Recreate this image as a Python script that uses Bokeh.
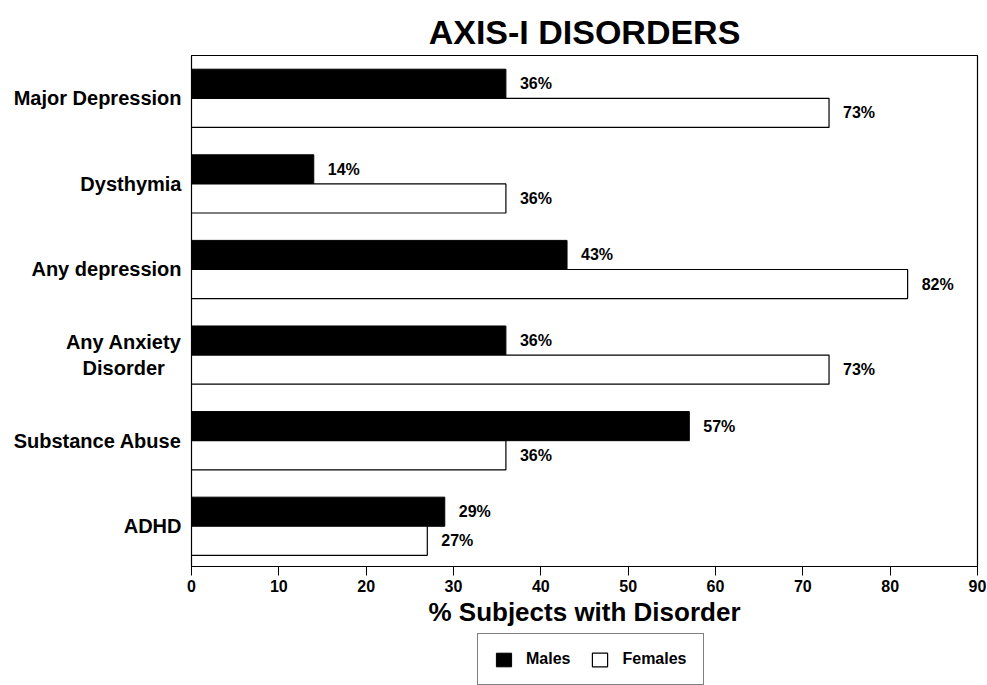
from bokeh.plotting import figure
from bokeh.layouts import column
from bokeh.models import ColumnDataSource, Legend, LegendItem, FixedTicker, LabelSet
from bokeh.core.properties import value
from bokeh.embed import file_html
from bokeh.resources import INLINE

# Data: percentage of subjects with each Axis-I disorder
categories = ["Major Depression", "Dysthymia", "Any depression",
              "Any Anxiety\nDisorder\u00a0\u00a0\u00a0", "Substance Abuse", "ADHD"]
males = [36, 14, 43, 36, 57, 29]
females = [73, 36, 82, 73, 36, 27]
x_ticks = [0, 10, 20, 30, 40, 50, 60, 70, 80, 90]
series_names = ["Males", "Females"]

n = len(categories)
pos = [n - 1 - i for i in range(n)]          # top-to-bottom order
bar_h = 0.34
male_y = [p_ + bar_h / 2 for p_ in pos]
female_y = [p_ - bar_h / 2 for p_ in pos]

males_src = ColumnDataSource(dict(y=male_y, v=males, lab=[f"{v}%" for v in males]))
females_src = ColumnDataSource(dict(y=female_y, v=females, lab=[f"{v}%" for v in females]))

FONT = "Liberation Sans"
W = 987

p = figure(frame_width=786, frame_height=511, x_range=(0, 90), y_range=(-0.47, 5.5),
           output_backend="svg", toolbar_location=None,
           min_border_left=191, min_border_right=10, min_border_top=55,
           min_border_bottom=64)

p.title.text = "AXIS-I DISORDERS"
p.title.text_font = FONT
p.title.text_font_size = "34px"
p.title.text_font_style = "bold"
p.title.align = "center"
p.title.text_color = "black"
p.title.standoff = 9

p.outline_line_color = "black"
p.outline_line_width = 1.2
p.xgrid.visible = False
p.ygrid.visible = False

bar_styles = [dict(fill_color="black", line_color="black", line_width=1),
              dict(fill_color="white", line_color="black", line_width=1.2)]

p.hbar(y="y", right="v", left=0, height=bar_h, source=males_src, **bar_styles[0])
p.hbar(y="y", right="v", left=0, height=bar_h, source=females_src, **bar_styles[1])

for src in (males_src, females_src):
    p.add_layout(LabelSet(x="v", y="y", text="lab", source=src, x_offset=14,
                          text_baseline="middle", text_font=value(FONT),
                          text_font_size=value("16px"), text_font_style="bold",
                          text_color="black"))

# x axis
xa = p.xaxis[0]
xa.ticker = FixedTicker(ticks=x_ticks)
xa.axis_label = "% Subjects with Disorder"
xa.axis_label_text_font = FONT
xa.axis_label_text_font_size = "26px"
xa.axis_label_text_font_style = "bold"
xa.axis_label_text_color = "black"
xa.axis_label_standoff = 2
xa.major_label_text_font = FONT
xa.major_label_text_font_size = "16px"
xa.major_label_text_font_style = "bold"
xa.major_label_text_color = "black"
xa.major_tick_out = 9
xa.major_tick_in = 0
xa.minor_tick_out = 0
xa.minor_tick_in = 0
xa.axis_line_color = "black"
xa.major_tick_line_color = "black"
xa.major_label_standoff = 4

# y axis with category names
ya = p.yaxis[0]
ya.ticker = FixedTicker(ticks=pos)
ya.major_label_overrides = {pos[i]: categories[i] for i in range(n)}
ya.major_label_text_font = FONT
ya.major_label_text_font_size = "20px"
ya.major_label_text_font_style = "bold"
ya.major_label_text_color = "black"
ya.major_tick_out = 0
ya.major_tick_in = 0
ya.minor_tick_out = 0
ya.minor_tick_in = 0
ya.axis_line_color = "black"
ya.major_label_standoff = 10

# legend strip underneath the chart; its swatch renderers hold no drawable bar
leg = figure(width=W, height=55, x_range=(0, 1), y_range=(0, 1),
             x_axis_type=None, y_axis_type=None,
             output_backend="svg", toolbar_location=None,
             min_border=0, outline_line_color=None)
leg_items = []
for name, style in zip(series_names, bar_styles):
    r = leg.hbar(y=[float("nan")], right=[float("nan")], left=float("nan"),
                 height=0.5, **style)
    leg_items.append(LegendItem(label=name, renderers=[r]))

legend = Legend(items=leg_items, orientation="horizontal", location=(286, 0),
                label_text_font=FONT, label_text_font_size="16px",
                label_text_font_style="bold", label_text_color="black",
                glyph_width=19, glyph_height=17, spacing=20,
                padding=16, margin=0, label_standoff=13,
                border_line_color="black", border_line_width=1.5,
                background_fill_alpha=1)
leg.add_layout(legend, "center")

layout = column(p, leg, spacing=0)
open("out.html", "w").write(file_html(layout, INLINE))
